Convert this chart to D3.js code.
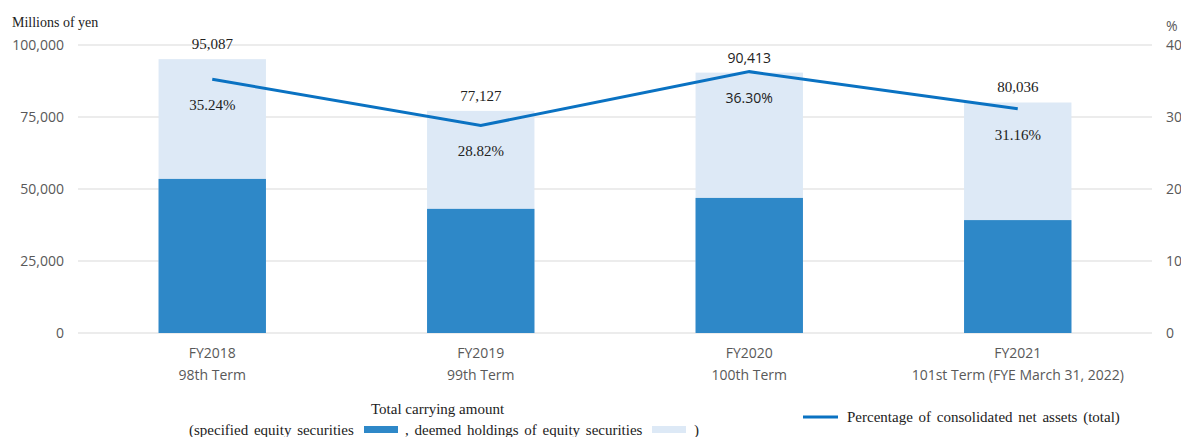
<!DOCTYPE html>
<html>
<head>
<meta charset="utf-8">
<script src="https://cdnjs.cloudflare.com/ajax/libs/d3/7.9.0/d3.min.js"></script>
<style>
  body { margin: 0; background: #fff; }
  svg { display: block; }
</style>
</head>
<body>
<div class="canvas"></div>
<script>
// chart data
const years = ["FY2018", "FY2019", "FY2020", "FY2021"];
const terms = ["98th Term", "99th Term", "100th Term", "101st Term (FYE March 31, 2022)"];
const specified = [53500, 43100, 46900, 39200];   // dark part
const totals = [95087, 77127, 90413, 80036];
const pct = [35.24, 28.82, 36.30, 31.16];
const leftTicks = [0, 25000, 50000, 75000, 100000];
const rightTicks = [0, 10, 20, 30, 40];

const width = 1181, height = 437;
const plotLeft = 78, plotRight = 1152, plotTop = 45, plotBottom = 333;

const serif = "'Liberation Serif', 'Times New Roman', serif";
const sans = "'Open Sans', 'Liberation Sans', sans-serif";

const svg = d3.select(".canvas").append("svg")
  .attr("width", width).attr("height", height);

const x = d3.scaleBand().domain(years).range([plotLeft, plotRight]).paddingInner(0.6).paddingOuter(0.3);
const y = d3.scaleLinear().domain([0, 100000]).range([plotBottom, plotTop]);
const y2 = d3.scaleLinear().domain([0, 40]).range([plotBottom, plotTop]);

// gridlines
svg.append("g").selectAll("line").data(leftTicks).join("line")
  .attr("x1", plotLeft).attr("x2", plotRight)
  .attr("y1", d => y(d)).attr("y2", d => y(d))
  .attr("stroke", "#d9d9d9").attr("stroke-width", 1.2);

// left axis labels
svg.append("g").selectAll("text").data(leftTicks).join("text")
  .attr("x", 64).attr("y", d => y(d) + 5)
  .attr("text-anchor", "end").attr("font-family", sans).attr("font-size", 14)
  .attr("fill", "#595959").text(d => d3.format(",")(d));

// right axis labels
svg.append("g").selectAll("text").data(rightTicks).join("text")
  .attr("x", 1166).attr("y", d => y2(d) + 5)
  .attr("text-anchor", "start").attr("font-family", sans).attr("font-size", 14)
  .attr("fill", "#595959").text(d => d);

svg.append("text").attr("x", 12).attr("y", 27).attr("font-family", serif)
  .attr("font-size", 14).attr("fill", "#222").text("Millions of yen");
svg.append("text").attr("x", 1166).attr("y", 31).attr("font-family", sans)
  .attr("font-size", 14).attr("fill", "#595959").text("%");

// bars: total (light) then specified (dark)
svg.append("g").selectAll("rect").data(years).join("rect")
  .attr("x", d => x(d)).attr("width", x.bandwidth())
  .attr("y", (d, i) => y(totals[i])).attr("height", (d, i) => plotBottom - y(totals[i]))
  .attr("fill", "#dde9f6");
svg.append("g").selectAll("rect").data(years).join("rect")
  .attr("x", d => x(d)).attr("width", x.bandwidth())
  .attr("y", (d, i) => y(specified[i])).attr("height", (d, i) => plotBottom - y(specified[i]))
  .attr("fill", "#2e88c8");

// line
const cx = d => x(d) + x.bandwidth() / 2;
svg.append("path").datum(years)
  .attr("fill", "none").attr("stroke", "#0a72c2").attr("stroke-width", 3)
  .attr("d", d3.line().x(d => cx(d)).y((d, i) => y2(pct[i])));

// total labels
svg.append("g").selectAll("text").data(years).join("text")
  .attr("x", d => cx(d)).attr("y", (d, i) => y(totals[i]) - 10)
  .attr("text-anchor", "middle").attr("fill", "#222")
  .attr("font-size", (d, i) => i == 2 ? 14 : 15)
  .attr("font-family", (d, i) => i == 2 ? sans : serif)
  .text((d, i) => d3.format(",")(totals[i]));

// percentage labels
svg.append("g").selectAll("text").data(years).join("text")
  .attr("x", d => cx(d)).attr("y", (d, i) => y2(pct[i]) + 31)
  .attr("text-anchor", "middle").attr("fill", "#222")
  .attr("font-size", (d, i) => i == 2 ? 14 : 15)
  .attr("font-family", (d, i) => i == 2 ? sans : serif)
  .text((d, i) => pct[i].toFixed(2) + "%");

// category labels
const cat = svg.append("g").selectAll("text").data(years).join("text")
  .attr("text-anchor", "middle").attr("font-family", sans).attr("font-size", 14)
  .attr("fill", "#595959");
cat.append("tspan").attr("x", d => cx(d)).attr("y", 358).text(d => d);
cat.append("tspan").attr("x", d => cx(d)).attr("y", 380).text((d, i) => terms[i]);

// legend
svg.append("text").attr("x", 371).attr("y", 414)
  .attr("font-family", serif).attr("font-size", 15).attr("fill", "#222")
  .text("Total carrying amount");

const lg = svg.append("text").attr("x", 189).attr("y", 435)
  .attr("font-family", serif).attr("font-size", 15).attr("fill", "#222")
  .attr("word-spacing", 2);
lg.append("tspan").text("(specified equity securities");
lg.append("tspan").attr("x", 405).text(", deemed holdings of equity securities");
lg.append("tspan").attr("x", 694).text(")");
svg.append("rect").attr("x", 364).attr("y", 426).attr("width", 34).attr("height", 7).attr("fill", "#2e88c8");
svg.append("rect").attr("x", 652).attr("y", 426).attr("width", 34).attr("height", 7).attr("fill", "#dde9f6");

svg.append("line").attr("x1", 803).attr("x2", 838).attr("y1", 417).attr("y2", 417)
  .attr("stroke", "#0a72c2").attr("stroke-width", 3);
svg.append("text").attr("x", 847).attr("y", 422)
  .attr("font-family", serif).attr("font-size", 15).attr("fill", "#222")
  .attr("word-spacing", 2)
  .text("Percentage of consolidated net assets (total)");
</script>
</body>
</html>
